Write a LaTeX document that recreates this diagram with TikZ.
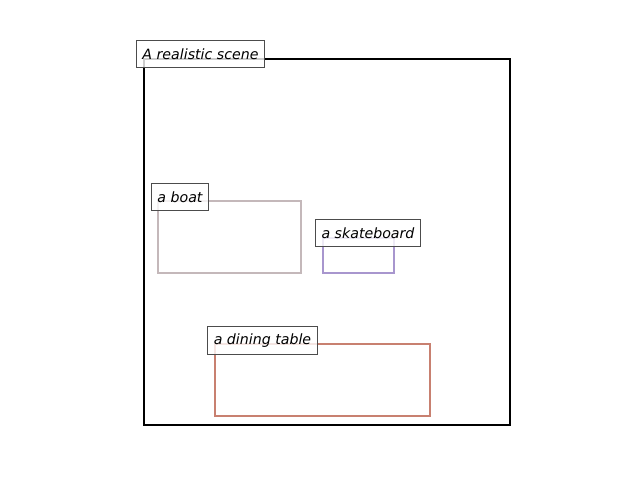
\documentclass[tikz,border=0pt]{standalone}
\usepackage{fontspec}
\setmainfont{DejaVu Sans}
\begin{document}
\begin{tikzpicture}[x=0.72pt,y=-0.72pt,
  lbl/.style={draw=black!70, line width=0.8pt, fill=white, fill opacity=0.8, text opacity=1,
    draw opacity=1,
    font=\fontsize{10.2}{12}\selectfont\itshape, inner xsep=4.5pt, inner ysep=0pt,
    minimum height=20pt, anchor=center},
  bbox/.style={line width=1.6pt}]
\useasboundingbox (0,0) rectangle (640,480);
\definecolor{boatc}{RGB}{196,184,186}
\definecolor{skatec}{RGB}{168,150,206}
\definecolor{tablec}{RGB}{200,128,112}
\draw[bbox, black] (144,59) rectangle (510,425);
\draw[bbox, boatc] (158,201) rectangle (301,273);
\draw[bbox, skatec] (323,238) rectangle (394,273);
\draw[bbox, tablec] (215,344) rectangle (430,416);
\node[lbl] (scene) at (200.5,54) {A realistic scene};
\node[lbl] (boat) at (180,197) {a boat};
\node[lbl] (skate) at (368,233) {a skateboard};
\node[lbl] (table) at (262.5,340.5) {a dining table};
\end{tikzpicture}
\end{document}
